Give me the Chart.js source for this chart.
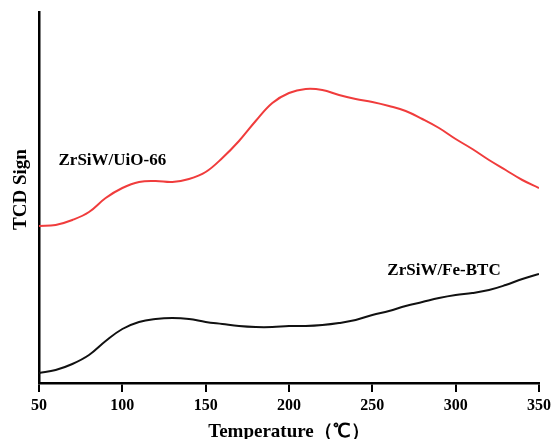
<!DOCTYPE html>
<html>
<head>
<meta charset="utf-8">
<script src="https://cdn.jsdelivr.net/npm/chart.js@4.4.0/dist/chart.umd.min.js"></script>
<style>
  html, body { margin: 0; padding: 0; background: #fff; }
  #wrap { width: 555px; height: 439px; }
</style>
</head>
<body>
<div id="wrap"><canvas id="c" width="555" height="439"></canvas></div>
<script>
// Temperature (°C)
const temperatures = [50,60,70,80,90,100,110,120,130,140,150,160,170,180,190,200,210,220,230,240,250,260,270,280,290,300,310,320,330,340,350];
// TCD signal (arbitrary units)
const uio66Signal = [157,158,163,171,185,195,201,202,201,204,211,225,242,262,280,290,294,293,288,284,281,277,272,264,255,244,234,223,213,203,195];
const feBtcSignal = [10,13,19,28,42,54,61,64,65,64,61,59,57,56,56,57,57,58,60,63,68,72,77,81,85,88,90,93,98,104,109];
const xTicks = [50,100,150,200,250,300,350];
const seriesLabels = ["ZrSiW/UiO-66", "ZrSiW/Fe-BTC"];
const labelAnchors = [[94, 222], [293, 112]]; // [temperature, signal]
const xTitle = 'Temperature（℃）';
const yTitle = 'TCD Sign';

const FONT = '"Liberation Serif", "Times New Roman", serif';

const labelPlugin = {
  id: 'seriesLabels',
  afterDatasetsDraw(chart) {
    const {ctx, scales: {x, y}} = chart;
    ctx.save();
    ctx.font = 'bold 17px ' + FONT;
    ctx.fillStyle = '#000';
    ctx.textAlign = 'center';
    ctx.textBaseline = 'middle';
    seriesLabels.forEach((t, i) => {
      ctx.fillText(t, x.getPixelForValue(labelAnchors[i][0]), y.getPixelForValue(labelAnchors[i][1]));
    });
    // y axis title
    ctx.font = 'bold 19px ' + FONT;
    ctx.translate(21, (chart.chartArea.top + chart.chartArea.bottom) / 2 - 8);
    ctx.rotate(-Math.PI / 2);
    ctx.fillText(yTitle, 0, 0);
    ctx.restore();
  }
};

new Chart(document.getElementById('c'), {
  type: 'line',
  data: {
    datasets: [
      {
        label: seriesLabels[0],
        data: temperatures.map((t, i) => ({x: t, y: uio66Signal[i]})),
        borderColor: '#f03c3c',
        borderWidth: 2,
        pointRadius: 0,
        tension: 0.4,
        fill: false
      },
      {
        label: seriesLabels[1],
        data: temperatures.map((t, i) => ({x: t, y: feBtcSignal[i]})),
        borderColor: '#111',
        borderWidth: 2,
        pointRadius: 0,
        tension: 0.4,
        fill: false
      }
    ]
  },
  options: {
    responsive: false,
    animation: false,
    layout: { padding: { top: 12, right: 15, left: 0, bottom: 0 } },
    plugins: { legend: { display: false }, tooltip: { enabled: false } },
    scales: {
      x: {
        type: 'linear',
        min: 50, max: 350,
        afterBuildTicks(s) { s.ticks = xTicks.map(v => ({value: v})); },
        afterFit(s) { s.height = 56; },
        grid: { display: true, drawOnChartArea: false, drawTicks: true, tickLength: 9, color: '#000', lineWidth: 2 },
        border: { display: true, color: '#000', width: 2.5 },
        ticks: { color: '#000', font: { family: FONT, size: 16, weight: 'bold' }, padding: 4, maxRotation: 0 },
        title: { display: true, text: xTitle, color: '#000', font: { family: FONT, size: 19, weight: 'bold', lineHeight: 1 }, padding: { top: 0, bottom: -3 } }
      },
      y: {
        min: 0, max: 371,
        afterFit(s) { s.width = 39; },
        grid: { display: false },
        border: { display: true, color: '#000', width: 2.5 },
        ticks: { display: false },
        title: { display: false }
      }
    }
  },
  plugins: [labelPlugin]
});
</script>
</body>
</html>
